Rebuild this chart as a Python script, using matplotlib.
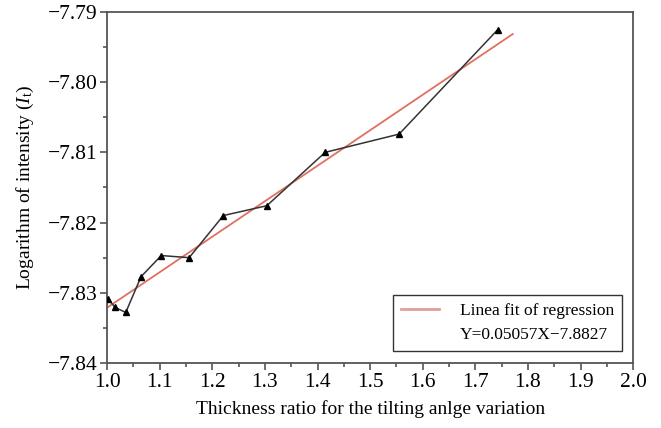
import numpy as np
import matplotlib.pyplot as plt
from matplotlib.lines import Line2D
from matplotlib.ticker import MultipleLocator

plt.rcParams['font.family'] = ['Liberation Serif', 'DejaVu Serif']
plt.rcParams['mathtext.fontset'] = 'custom'
plt.rcParams['mathtext.rm'] = 'Liberation Serif'
plt.rcParams['mathtext.it'] = 'Liberation Serif:italic'

# measured points
thickness_ratio = [1.0025, 1.0152, 1.0355, 1.0646, 1.103, 1.156, 1.221, 1.3036, 1.4144, 1.555, 1.7427]
log_intensity = [-7.8309, -7.8321, -7.8328, -7.8277, -7.8247, -7.8250, -7.8190, -7.8176, -7.8100, -7.8074, -7.7925]

# regression
slope = 0.05057
intercept = -7.8827
fit_x = np.array([1.0, 1.771])

fig = plt.figure(figsize=(6.61, 4.28), dpi=100)
ax = fig.add_axes([0.162, 0.152, 0.796, 0.820])

ax.plot(thickness_ratio, log_intensity, color='#333333', lw=1.1, marker='^', ms=4.5,
        mfc='black', mec='black', zorder=3)
ax.plot(fit_x, slope * fit_x + intercept, color='#e0705f', lw=1.3, zorder=2)

ax.set_xlim(1.0, 2.0)
ax.set_ylim(-7.84, -7.79)
ax.xaxis.set_major_locator(MultipleLocator(0.1))
ax.xaxis.set_minor_locator(MultipleLocator(0.05))
ax.yaxis.set_major_locator(MultipleLocator(0.01))
ax.yaxis.set_minor_locator(MultipleLocator(0.005))
ax.xaxis.set_major_formatter(plt.FuncFormatter(lambda v, p: f'{v:.1f}'))
ax.yaxis.set_major_formatter(plt.FuncFormatter(lambda v, p: f'{v:.2f}'.replace('-', '\u2212')))

for s in ax.spines.values():
    s.set_color('#555555')
    s.set_linewidth(1.3)
ax.tick_params(which='both', direction='out', color='#555555', width=1.2, labelsize=15.5, pad=2)
ax.tick_params(which='major', length=5)
ax.tick_params(which='minor', length=3)
ax.tick_params(top=False, right=False)

ax.set_xlabel('Thickness ratio for the tilting anlge variation', fontsize=14, labelpad=6)
ax.set_ylabel(r'Logarithm of intensity ($I_{\rm t}$)', fontsize=14, labelpad=8)

# legend: red handle on first row, equation on second row without handle
handles = [Line2D([], [], color='#e0a09a', lw=2),
           Line2D([], [], color='none')]
labels = ['Linea fit of regression', 'Y=0.05057X\u22127.8827']
leg = ax.legend(handles, labels, loc='lower right', bbox_to_anchor=(0.979, 0.034),
                borderaxespad=0, fontsize=12.5, frameon=True, fancybox=False, edgecolor='black',
                handlelength=2.2, handletextpad=1.2, borderpad=0.45, labelspacing=0.45)
leg.get_frame().set_linewidth(1.0)

fig.savefig('out.png', dpi=100)
